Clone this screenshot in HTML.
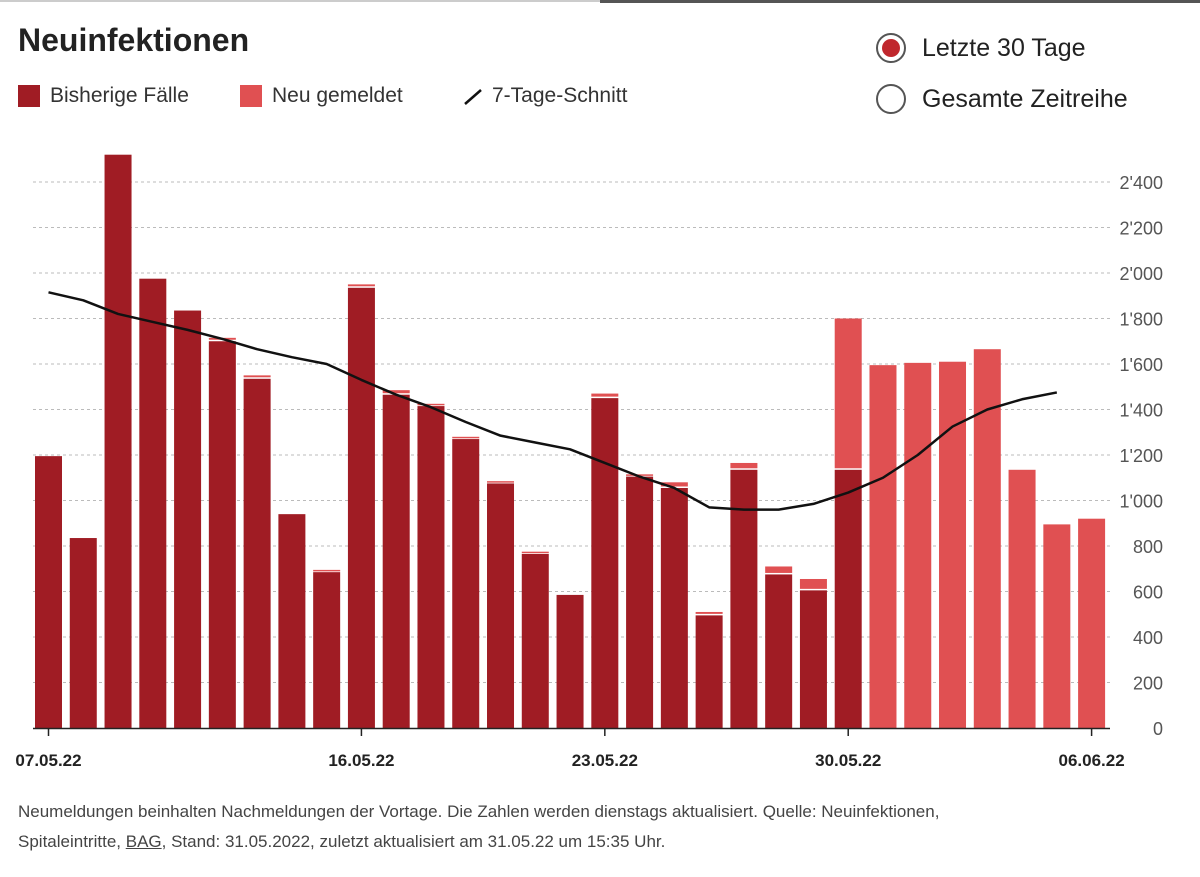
<!DOCTYPE html>
<html><head><meta charset="utf-8">
<style>
body{margin:0;background:#fff;font-family:"Liberation Sans","DejaVu Sans",sans-serif;color:#222;}
#wrap{position:relative;width:1200px;height:877px;overflow:hidden;}
.title{position:absolute;left:18px;top:22px;font-size:32px;font-weight:bold;color:#222;}
.leg{position:absolute;top:84px;font-size:21px;color:#333;display:flex;align-items:center;}
.sw{width:22px;height:22px;margin-right:10px;display:inline-block;}
.radio{position:absolute;left:876px;font-size:25px;color:#222;display:flex;align-items:center;}
.rc{width:30px;height:30px;border-radius:50%;border:2px solid #555;box-sizing:border-box;margin-right:16px;display:flex;align-items:center;justify-content:center;}
.foot{position:absolute;left:18px;top:797px;font-size:17px;color:#444;line-height:30px;}
</style></head><body>
<div id="wrap">
<div style="position:absolute;left:0;top:0;width:600px;height:2px;background:#ccc"></div>
<div style="position:absolute;left:600px;top:0;width:600px;height:3px;background:#555"></div>
<div class="title">Neuinfektionen</div>
<div class="leg" style="left:18px"><span class="sw" style="background:#a01c24"></span>Bisherige Fälle</div>
<div class="leg" style="left:240px"><span class="sw" style="background:#e05052"></span>Neu gemeldet</div>
<div class="leg" style="left:462px"><svg width="22" height="22" style="margin-right:8px"><line x1="3" y1="19" x2="19" y2="5" stroke="#111" stroke-width="2.5"/></svg>7-Tage-Schnitt</div>
<div class="radio" style="top:33px"><span class="rc"><span style="width:18px;height:18px;border-radius:50%;background:#c0272d;display:block"></span></span>Letzte 30 Tage</div>
<div class="radio" style="top:84px"><span class="rc"></span>Gesamte Zeitreihe</div>
<svg id="chart" width="1200" height="790" style="position:absolute;left:0;top:0"></svg>
<div class="foot">Neumeldungen beinhalten Nachmeldungen der Vortage. Die Zahlen werden dienstags aktualisiert. Quelle: Neuinfektionen,<br>Spitaleintritte, <span style="text-decoration:underline">BAG</span>, Stand: 31.05.2022, zuletzt aktualisiert am 31.05.22 um 15:35 Uhr.</div>
</div>
<script>
const dates=["07.05.22","08.05.22","09.05.22","10.05.22","11.05.22","12.05.22","13.05.22","14.05.22","15.05.22","16.05.22","17.05.22","18.05.22","19.05.22","20.05.22","21.05.22","22.05.22","23.05.22","24.05.22","25.05.22","26.05.22","27.05.22","28.05.22","29.05.22","30.05.22","31.05.22","01.06.22","02.06.22","03.06.22","04.06.22","05.06.22","06.06.22"];
const prior=[1195,835,2520,1975,1835,1700,1535,940,685,1935,1465,1415,1270,1075,765,585,1450,1105,1055,495,1135,675,605,1135,0,0,0,0,0,0,0];
const newly=[0,0,0,0,0,15,15,0,10,15,20,10,10,10,10,0,20,10,25,15,30,35,50,665,1595,1605,1610,1665,1135,895,920];
const avg=[1915,1880,1820,1785,1750,1710,1665,1630,1600,1530,1465,1410,1345,1285,1255,1225,1165,1105,1055,970,960,960,985,1035,1100,1200,1325,1400,1445,1475];
const yTicks=[0,200,400,600,800,1000,1200,1400,1600,1800,2000,2200,2400];
const xLabelIdx=[0,9,16,23,30];
const NS="http://www.w3.org/2000/svg";
const svg=document.getElementById('chart');
const y=v=>728-v*0.2275;
const x0=35,pitch=34.77,bw=27;
const xc=i=>x0+i*pitch+bw/2;
function el(t,a){const e=document.createElementNS(NS,t);for(const k in a)e.setAttribute(k,a[k]);svg.appendChild(e);return e;}
const fmt=v=>String(v).replace(/\B(?=(\d{3})+(?!\d))/g,"'");
yTicks.forEach(v=>{
  if(v>0){const g=el('line',{x1:33,x2:1110,y1:y(v),y2:y(v),stroke:'#bbb','stroke-dasharray':'3,3'});
  
  }
  const t=el('text',{x:1163,y:y(v)+7,'text-anchor':'end','font-size':'18',fill:'#555'});
  t.textContent=fmt(v);
  
  
});
dates.forEach((d,i)=>{
  const xl=x0+i*pitch;
  if(prior[i]>0){const r=el('rect',{x:xl,y:y(prior[i]),width:bw,height:prior[i]*0.2275,fill:'#a01c24'});
  
  }
  if(newly[i]>0){const top=y(prior[i]+newly[i]);const h=newly[i]*0.2275-(prior[i]>0?1.5:0);
  const r=el('rect',{x:xl,y:top,width:bw,height:Math.max(h,1.5),fill:'#e05052'});
  
  }
});
const ax=el('line',{x1:33,x2:1110,y1:728.5,y2:728.5,stroke:'#222','stroke-width':1.5});


xLabelIdx.forEach(i=>{
  el('line',{x1:xc(i),x2:xc(i),y1:728,y2:736,stroke:'#222','stroke-width':1.5});
  const t=el('text',{x:xc(i),y:766,'text-anchor':'middle','font-size':'17','font-weight':'bold',fill:'#222'});
  t.textContent=dates[i];
  
  
});
const p=el('polyline',{points:avg.map((v,i)=>xc(i)+','+y(v)).join(' '),fill:'none',stroke:'#111','stroke-width':2.5,'stroke-linejoin':'round'});


</script>
</body></html>
